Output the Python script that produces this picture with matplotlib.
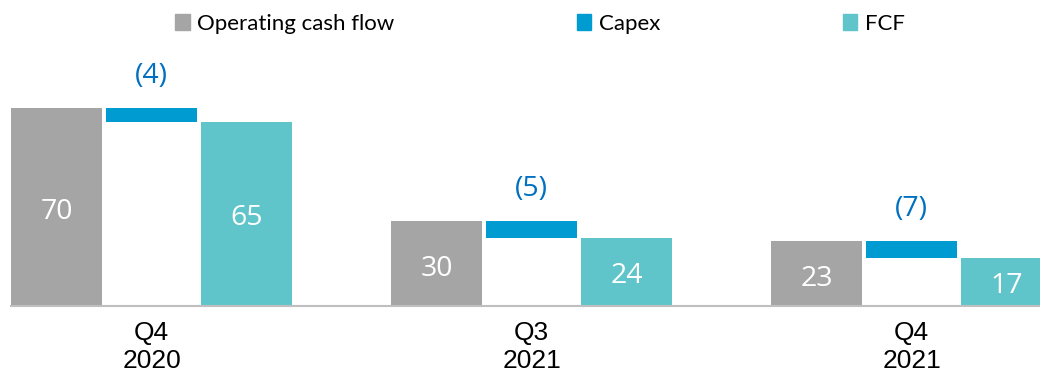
import matplotlib.pyplot as plt
from matplotlib.patches import Patch
import numpy as np

periods = ["Q4\n2020", "Q3\n2021", "Q4\n2021"]
ocf = [70, 30, 23]
capex = [4, 5, 7]
fcf = [65, 24, 17]

grey = "#A5A5A5"
blue = "#009CD1"
teal = "#5FC5CA"

fig = plt.figure(figsize=(10.4, 3.73), dpi=100)
ax = fig.add_axes([11 / 1040, 67 / 373, 1 - 11 / 1040, 240 / 373])

centers = np.arange(len(periods)) * 4
w = 0.96
ocf_arr = np.array(ocf)
fcf_arr = np.array(fcf)

ax.bar(centers - 1, ocf, width=w, color=grey)
ax.bar(centers, ocf_arr - fcf_arr, bottom=fcf_arr, width=w, color=blue)
ax.bar(centers + 1, fcf, width=w, color=teal)

num_font = dict(family=["Open Sans", "DejaVu Sans"], fontsize=20.5)
for i, c in enumerate(centers):
    ax.text(c - 1, ocf[i] / 2 - 1.8, str(ocf[i]), color="white", ha="center", va="center", **num_font)
    ax.text(c + 1, fcf[i] / 2 - 1.5, str(fcf[i]), color="white", ha="center", va="center", **num_font)
    ax.annotate(f"({capex[i]})", (c, ocf[i]), xytext=(0, 23), textcoords="offset points",
                color="#0070C0", ha="center", va="center", annotation_clip=False, **num_font)

ax.set_xlim(-1.48, 9.35)
ax.set_ylim(0, 85)
ax.set_xticks(centers)
ax.set_xticklabels(periods, fontsize=19, family="Liberation Sans", linespacing=1.2)
ax.tick_params(axis="x", length=0, pad=11)
ax.set_yticks([])
for s in ["top", "right", "left"]:
    ax.spines[s].set_visible(False)
ax.spines["bottom"].set_color("#BFBFBF")
ax.spines["bottom"].set_linewidth(1.5)

handles = [Patch(color=grey, label="Operating cash flow"),
           Patch(color=blue, label="Capex"),
           Patch(color=teal, label="FCF")]
fig.legend(handles=handles, loc="center", bbox_to_anchor=(540 / 1040, 1 - 24 / 373), ncol=3,
           frameon=False, prop={"family": ["Lato", "DejaVu Sans"], "size": 16},
           handlelength=0.65, handleheight=0.75, handletextpad=0.35, columnspacing=8.2)

fig.savefig("out.png", dpi=100)
